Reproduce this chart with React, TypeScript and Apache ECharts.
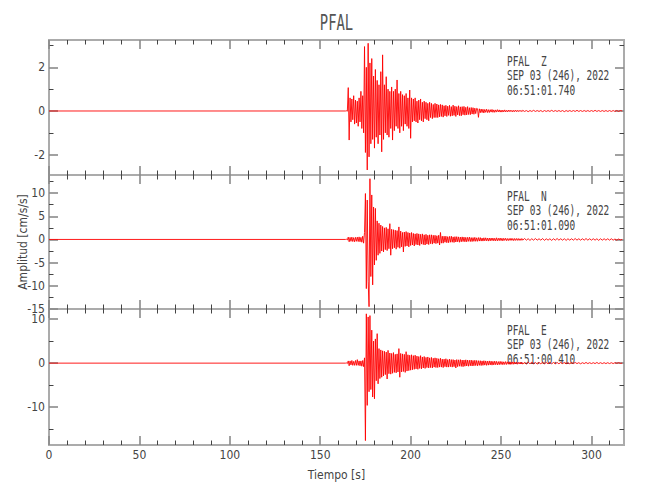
import React, { useEffect, useRef } from "react";
import * as echarts from "echarts";

// ---------- data ----------
const TITLE = "PFAL";
const STATION = "PFAL";
const COMPONENTS = ["Z", "N", "E"];
const DATE_LABEL = "SEP 03 (246), 2022";
const START_TIMES = ["06:51:01.740", "06:51:01.090", "06:51:00.410"];
const X_NAME = "Tiempo [s]";
const Y_NAME = "Amplitud [cm/s/s]";

const X_MIN = 0;
const X_MAX = 318;
const X_MAJOR = [0, 50, 100, 150, 200, 250, 300];
const X_MINOR = [10, 20, 30, 40, 60, 70, 80, 90, 110, 120, 130, 140, 160, 170, 180, 190, 210, 220, 230, 240, 260, 270, 280, 290, 310];

const Y_MIN = [-2.93, -15, -18.6];
const Y_MAX = [3.25, 13.9, 12.3];
const Y_MAJOR = [[-2, 0, 2], [-15, -10, -5, 0, 5, 10], [-10, 0, 10]];
const Y_MINOR = [[-1, 1, 3], [-12.5, -7.5, -2.5, 2.5, 7.5, 12.5], [-15, -5, 5]];

// quiet pre-event sample at t = 0 s
const PRE_EVENT = [0];
// dense samples from T0, every DT seconds
const T0 = 164;
const DT = 0.5;
// coda tail samples, every TAIL_DT seconds after the dense block
const TAIL_DT = 1;

const Z_DENSE = [
  0, 0.01, -0.01, 1.07, -1.33, 0.6, -0.5, 0.55, -0.4, 0.7,
  -0.6, 0.5, -0.55, 0.45, -0.7, 0.6, -0.5, 0.9, -0.8, 0.7,
  -1.0, 2.95, -1.9, 2.0, -2.7, 3.1, -2.1, 2.2, -1.5, 2.4,
  -1.3, 1.6, -1.7, 1.9, -1.2, 1.4, -1.5, 1.2, -1.1, 1.8,
  -1.87, 2.57, -1.3, 1.2, -1.0, 1.57, -1.1, 1.0, -1.2, 0.9,
  -0.8, 1.1, -1.33, 0.9, -0.9, 1.0, -0.7, 1.42, -0.8, 0.8,
  -1.0, 0.9, -0.7, 0.75, -0.9, 0.7, -0.6, 0.8, -0.7, 0.6,
  -0.8, 0.96, -1.25, 0.6, -0.5, 0.55, -0.45, 0.6, -0.5, 0.45,
  -0.55, 0.5, -0.4, 0.55, -0.45, 0.4, -0.5, 0.45, -0.35, 0.4,
  -0.4, 0.35, -0.45, 0.4, -0.3, 0.35, -0.35, 0.3, -0.3, 0.35,
  -0.3, 0.32, -0.3, 0.28, -0.27, 0.3, -0.25, 0.28, -0.28, 0.24,
  -0.22, 0.26, -0.25, 0.22, -0.2, 0.26, -0.24, 0.2, -0.22, 0.27,
  -0.2, 0.22, -0.25, 0.2, -0.18, 0.24, -0.21, 0.19, -0.22, 0.2,
  -0.17, 0.21, -0.19, 0.17, -0.18, 0.2, -0.16, 0.15, -0.17, 0.16,
  -0.14, 0.15, -0.15, 0.13, -0.12, 0.12, 0.1, -0.29, 0.1, -0.08,
  0.09, -0.07, 0.08, -0.09, 0.07, -0.06, 0.08, -0.07, 0.06, -0.07,
  0.06, -0.05, 0.07, -0.06, 0.05, -0.06, 0.05, -0.05, 0.06, -0.04,
  0.05, -0.05, 0.04, -0.05, 0.04, -0.04, 0.05, -0.04, 0.03, -0.04,
  0.04, -0.03, 0.04, -0.03, 0.03, -0.04, 0.03, -0.03, 0.04, -0.03,
  0.03, -0.03, 0.03, -0.02, 0.03, -0.03,
];
const Z_TAIL = [
  0.03, -0.02, 0.02, -0.03, 0.02, -0.02, 0.03, -0.02, 0.02, -0.02,
  0.02, -0.03, 0.02, -0.02, 0.02, -0.02, 0.03, -0.02, 0.02, -0.02,
  0.02, -0.02, 0.02, -0.03, 0.02, -0.02, 0.02, -0.02, 0.02, -0.02,
  0.03, -0.02, 0.02, -0.02, 0.02, -0.02, 0.02, -0.02, 0.02, -0.02,
  0.03, -0.02, 0.02, -0.02, 0.02, -0.02, 0.02, -0.02, 0.02, -0.02,
  0.02, -0.02, 0.02, -0.02, 0.02, 0,
];

const N_DENSE = [
  0, 0.05, -0.1, 0.5, -0.5, 0.45, -0.4, 0.5, -0.45, 0.4,
  -0.5, 0.45, -0.4, 0.5, -0.45, 0.55, -0.5, 0.45, -0.6, 0.7,
  -0.8, 1.5, 9.9, -10.6, 8.5, -9.0, -14.5, 13.1, -8.0, 9.6,
  -9.8, 7.0, -5.5, 6.7, -4.5, 4.0, -3.4, 3.5, -3.0, 3.1,
  -2.5, 2.8, -2.7, 2.5, -2.2, 2.6, -2.4, 2.3, -2.0, 3.4,
  -3.4, 2.2, -2.0, 2.1, -1.8, 2.0, -2.1, 1.9, -1.7, 2.7,
  -1.9, 1.8, -1.6, 1.5, -2.7, 1.6, -1.5, 1.7, -1.4, 1.5,
  -1.6, 1.4, -1.3, 1.5, -1.2, 1.3, -1.4, 1.2, -1.1, 1.3,
  -1.2, 1.2, -1.3, 1.1, -1.0, 1.2, -1.1, 1.0, -1.2, 1.1,
  -1.0, 0.9, -1.1, 1.0, -0.9, 1.0, -1.0, 0.9, -0.8, 0.9,
  -0.9, 0.8, -0.8, 0.9, -1.2, 1.5, -0.8, 0.7, -0.8, 0.7,
  -0.6, 0.7, -0.7, 0.6, -0.7, 0.65, -0.6, 0.7, -0.6, 0.55,
  -0.65, 0.6, -0.55, 0.6, -0.5, 0.55, -0.6, 0.5, -0.5, 0.55,
  -0.45, 0.5, -0.5, 0.45, -0.5, 0.45, -0.4, 0.5, -0.45, 0.4,
  -0.45, 0.4, -0.4, 0.45, -0.4, 0.35, -0.4, 0.4, -0.35, 0.4,
  -0.35, 0.3, -0.35, 0.35, -0.3, 0.35, -0.3, 0.3, -0.35, 0.3,
  -0.3, 0.3, -0.25, 0.3, -0.3, 0.25, -0.3, 0.35, -0.3, 0.25,
  -0.25, 0.3, -0.25, 0.25, -0.3, 0.25, -0.2, 0.25, -0.25, 0.2,
  -0.25, 0.2, -0.2, 0.25, -0.2, 0.2, -0.25, 0.2, -0.2, 0.2,
  -0.2, 0.2, -0.2, 0.15, -0.2, 0.2,
];
const N_TAIL = [
  -0.15, 0.2, -0.15, 0.15, -0.2, 0.15, -0.15, 0.2, -0.15, 0.15,
  -0.15, 0.2, -0.2, 0.15, -0.15, 0.15, -0.2, 0.15, -0.15, 0.2,
  -0.15, 0.15, -0.15, 0.15, -0.2, 0.15, -0.15, 0.15, -0.15, 0.2,
  -0.15, 0.15, -0.15, 0.15, -0.15, 0.2, -0.15, 0.15, -0.15, 0.15,
  -0.15, 0.15, -0.2, 0.15, -0.15, 0.15, -0.15, 0.15, -0.15, 0.15,
  -0.15, 0.1, -0.15, 0.1, -0.1, 0,
];

const E_DENSE = [
  0, 0.05, -0.1, 0.5, -0.6, 0.5, -0.4, 0.6, -0.5, 0.4,
  -0.5, 0.6, -0.5, 0.8, -0.5, 0.5, -0.6, 0.5, -0.7, 0.6,
  -0.8, 1.2, -17.6, 11.2, -9.6, 10.5, -6.5, 10.8, -6.0, 7.5,
  -7.7, 5.0, -8.1, 5.5, -4.0, 6.7, -4.7, 3.3, -3.5, 3.0,
  -3.2, 2.8, -2.9, 2.7, -2.6, 2.5, -3.6, 2.9, -2.4, 2.3,
  -2.5, 2.2, -2.3, 2.4, -2.1, 2.0, -2.2, 2.1, -2.0, 3.3,
  -3.2, 2.2, -2.0, 2.1, -1.9, 2.0, -2.1, 2.6, -1.8, 1.9,
  -1.7, 1.8, -1.6, 1.9, -1.5, 1.7, -1.4, 1.8, -1.3, 1.6,
  -1.4, 1.5, -1.2, 1.7, -1.3, 1.4, -1.1, 1.5, -1.2, 1.3,
  -1.0, 1.4, -1.1, 1.2, -1.0, 1.3, -1.1, 1.1, -0.9, 1.2,
  -1.0, 1.1, -1.0, 1.0, -0.9, 1.1, -0.9, 0.9, -1.0, 0.9,
  -0.8, 1.0, -0.9, 0.8, -0.9, 0.9, -0.8, 0.8, -0.9, 0.8,
  -0.8, 0.7, -1.1, 0.8, -0.8, 0.75, -0.7, 0.8, -0.75, 0.7,
  -0.8, 0.7, -0.7, 0.75, -0.65, 0.7, -0.7, 0.65, -0.6, 0.7,
  -0.65, 0.6, -0.6, 0.65, -0.55, 0.6, -0.6, 0.55, -0.5, 0.55,
  -0.55, 0.5, -0.5, 0.55, -0.45, 0.5, -0.5, 0.45, -0.45, 0.5,
  -0.4, 0.45, -0.45, 0.4, -0.4, 0.45, -0.35, 0.4, -0.4, 0.35,
  -0.35, 0.4, -0.3, 0.35, -0.35, 0.3, -0.3, 0.35, -0.3, 0.3,
  -0.25, 0.3, -0.3, 0.25, -0.25, 0.3, -0.25, 0.25, -0.2, 0.25,
  -0.25, 0.2, -0.2, 0.2, -0.2, 0.2,
];
const E_TAIL = [
  -0.2, 0.15, -0.2, 0.2, -0.15, 0.2, -0.15, 0.15, -0.2, 0.15,
  -0.15, 0.2, -0.15, 0.15, -0.15, 0.2, -0.15, 0.15, -0.15, 0.15,
  -0.15, 0.15, -0.1, 0.15, -0.15, 0.1, -0.15, 0.15, -0.1, 0.15,
  -0.1, 0.1, -0.15, 0.1, -0.1, 0.15, -0.1, 0.1, -0.1, 0.1,
  -0.1, 0.15, -0.1, 0.1, -0.1, 0.1, -0.1, 0.1, -0.1, 0.1,
  -0.1, 0.1, -0.05, 0.1, -0.05, 0,
];

const DENSE = [Z_DENSE, N_DENSE, E_DENSE];
const TAILS = [Z_TAIL, N_TAIL, E_TAIL];

// ---------- layout / style ----------
const W = 650;
const H = 500;
const GRID_LEFT = 49;
const GRID_WIDTH = 575;
const GRID_TOPS = [40, 175, 309];
const GRID_HEIGHTS = [135, 134, 136];
const BORDER = "#ababab";
const MAJOR_TICK = "#8a8a8a";
const MINOR_TICK = "#444";
const TEXT = "#444";
const TRACE = "#ff0000";
const LABEL_FONT = "'Liberation Sans Narrow', 'DejaVu Sans Condensed', sans-serif";
const MONO = "'DejaVu Sans Mono', 'Liberation Mono', monospace";

function buildTrace(dense: number[], tail: number[]): number[][] {
  const pts: number[][] = [];
  PRE_EVENT.forEach((v) => pts.push([X_MIN, v]));
  dense.forEach((v, i) => pts.push([T0 + i * DT, v]));
  const tailStart = T0 + dense.length * DT;
  tail.forEach((v, i) => pts.push([tailStart + i * TAIL_DT, v]));
  return pts;
}

function tick(values: number[], major: boolean) {
  return {
    show: true,
    inside: true,
    length: major ? 9 : 4.5,
    customValues: values,
    lineStyle: { color: major ? MAJOR_TICK : MINOR_TICK, width: major ? 1.6 : 1 },
  };
}

function buildOption() {
  const grids: any[] = [];
  const xAxes: any[] = [];
  const yAxes: any[] = [];
  const series: any[] = [];
  const graphics: any[] = [];

  const labelStyle = { fontFamily: LABEL_FONT, fontSize: 12, color: TEXT };

  for (let p = 0; p < 3; p++) {
    grids.push({
      left: GRID_LEFT,
      top: GRID_TOPS[p],
      width: GRID_WIDTH,
      height: GRID_HEIGHTS[p],
      show: true,
      borderColor: BORDER,
      borderWidth: 2,
      backgroundColor: "transparent",
      containLabel: false,
      outerBoundsMode: "none",
    });

    const xBase = {
      type: "value",
      gridIndex: p,
      min: X_MIN,
      max: X_MAX,
      axisLine: { show: false, onZero: false },
      splitLine: { show: false },
    };
    const isLast = p === 2;
    xAxes.push({
      ...xBase,
      position: "bottom",
      axisTick: tick(X_MAJOR, true),
      axisLabel: isLast
        ? { show: true, customValues: X_MAJOR, margin: 4, ...labelStyle }
        : { show: false },
      name: isLast ? X_NAME : "",
      nameLocation: "middle",
      nameGap: 24,
      nameMoveOverlap: false,
      nameTextStyle: { ...labelStyle },
    });
    xAxes.push({ ...xBase, position: "bottom", axisTick: tick(X_MINOR, false), axisLabel: { show: false } });
    xAxes.push({ ...xBase, position: "top", axisTick: tick(X_MAJOR, true), axisLabel: { show: false } });
    xAxes.push({ ...xBase, position: "top", axisTick: tick(X_MINOR, false), axisLabel: { show: false } });

    const yBase = {
      type: "value",
      gridIndex: p,
      min: Y_MIN[p],
      max: Y_MAX[p],
      axisLine: { show: false, onZero: false },
      splitLine: { show: false },
    };
    yAxes.push({
      ...yBase,
      position: "left",
      axisTick: tick(Y_MAJOR[p], true),
      axisLabel: { show: true, customValues: Y_MAJOR[p], margin: 4, ...labelStyle },
      name: p === 1 ? Y_NAME : "",
      nameLocation: "middle",
      nameGap: 20,
      nameMoveOverlap: false,
      nameRotate: 90,
      nameTextStyle: { ...labelStyle },
    });
    yAxes.push({ ...yBase, position: "left", axisTick: tick(Y_MINOR[p], false), axisLabel: { show: false } });
    yAxes.push({ ...yBase, position: "right", axisTick: tick(Y_MAJOR[p], true), axisLabel: { show: false } });
    yAxes.push({ ...yBase, position: "right", axisTick: tick(Y_MINOR[p], false), axisLabel: { show: false } });

    series.push({
      type: "line",
      xAxisIndex: p * 4,
      yAxisIndex: p * 4,
      data: buildTrace(DENSE[p], TAILS[p]),
      showSymbol: false,
      symbol: "none",
      lineStyle: { color: TRACE, width: 0.9 },
      silent: true,
    });

    const lines = [`${STATION}  ${COMPONENTS[p]}`, DATE_LABEL, START_TIMES[p]];
    lines.forEach((t, i) => {
      graphics.push({
        type: "text",
        x: 507,
        y: GRID_TOPS[p] + 21 + i * 14.5,
        scaleX: 0.7,
        silent: true,
        style: {
          text: t,
          font: `13.5px ${MONO}`,
          fill: TEXT,
          align: "left",
          textAlign: "left",
          verticalAlign: "middle",
          textVerticalAlign: "middle",
        },
      });
    });
  }

  graphics.push({
    type: "text",
    x: GRID_LEFT + GRID_WIDTH / 2,
    y: 22,
    scaleX: 0.66,
    silent: true,
    style: {
      text: TITLE,
      font: `21px ${MONO}`,
      fill: "#555",
      align: "center",
      textAlign: "center",
      verticalAlign: "middle",
      textVerticalAlign: "middle",
    },
  });

  return {
    animation: false,
    backgroundColor: "#ffffff",
    grid: grids,
    xAxis: xAxes,
    yAxis: yAxes,
    series,
    graphic: graphics,
  };
}

export default function App() {
  const ref = useRef<HTMLDivElement>(null);
  useEffect(() => {
    if (!ref.current) return;
    const chart = echarts.init(ref.current, undefined, { renderer: "svg", width: W, height: H });
    chart.setOption(buildOption() as any);
    return () => chart.dispose();
  }, []);
  return (
    <div
      ref={ref}
      style={{ position: "fixed", left: 0, top: 0, width: W, height: H, background: "#fff" }}
    />
  );
}
